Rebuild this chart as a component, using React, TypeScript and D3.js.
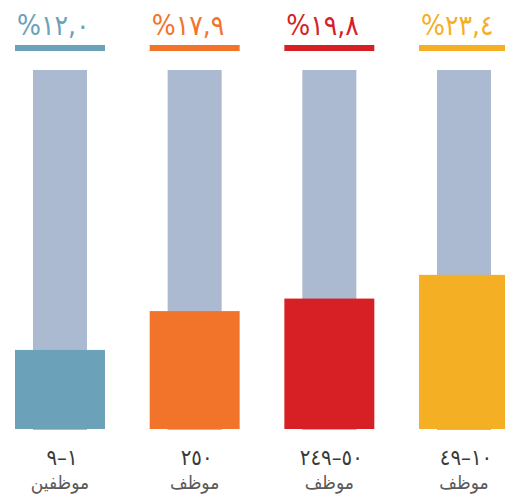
import React from "react";
import * as d3 from "d3";

// Company size groups (logical Arabic order), unit words, and shares in percent
const sizeRanges = ["١–٩", "٢٥٠", "٥٠–٢٤٩", "١٠–٤٩"];
const unitWords = ["موظفين", "موظف", "موظف", "موظف"];
const shares = [12.0, 17.9, 19.8, 23.4];
const colors = ["#6BA1B9", "#F2742B", "#D71F26", "#F5AF24"];
const trackMax = 54.5;

const W = 505;
const H = 497;

const arabicDigits = "٠١٢٣٤٥٦٧٨٩";
const toArabic = (v: number) =>
  d3.format(".1f")(v).replace(/\d/g, (d) => arabicDigits[+d]).replace(".", ",");

export default function App() {
  const x = d3
    .scaleBand<number>()
    .domain(d3.range(shares.length))
    .range([15, 509])
    .paddingInner(0.332)
    .paddingOuter(0);
  const y = d3.scaleLinear().domain([0, trackMax]).range([429, 70]);
  const bw = x.bandwidth();
  const trackW = 54;
  const condensed = "'DejaVu Sans Condensed', 'DejaVu Sans', sans-serif";

  return (
    <svg
      width={W}
      height={H}
      style={{ position: "absolute", left: 0, top: 0, background: "#fff" }}
    >
      {shares.map((v, i) => {
        const x0 = x(i)!;
        const cx = x0 + bw / 2;
        return (
          <g key={i}>
            <rect
              x={cx - trackW / 2}
              y={y(trackMax)}
              width={trackW}
              height={y(0) + 1 - y(trackMax)}
              fill="#ABBAD0"
            />
            <rect x={x0} y={y(v)} width={bw} height={y(0) - y(v)} fill={colors[i]} />
            <rect x={x0} y={45} width={bw} height={6} fill={colors[i]} />
            <text
              x={x0 + 2}
              y={35}
              fill={colors[i]}
              fontFamily={condensed}
              fontSize={28}
              direction="rtl"
              textAnchor="end"
              letterSpacing={-2}
            >
              {toArabic(v) + "%"}
            </text>
            <text
              x={cx + 2}
              y={465}
              fill="#3a3a3a"
              fontFamily={condensed}
              fontSize={22}
              direction="rtl"
              textAnchor="middle"
            >
              {sizeRanges[i]}
            </text>
            <text
              x={cx}
              y={489}
              fill="#5a5a5a"
              fontFamily={condensed}
              fontSize={19}
              direction="rtl"
              textAnchor="middle"
            >
              {unitWords[i]}
            </text>
          </g>
        );
      })}
    </svg>
  );
}
